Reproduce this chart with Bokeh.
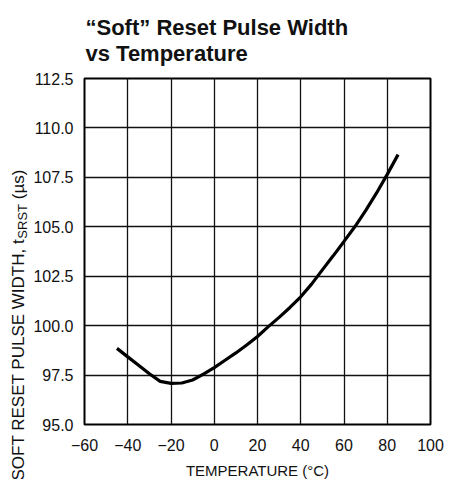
import math
from bokeh.plotting import figure
from bokeh.layouts import row
from bokeh.models import Range1d, FixedTicker, Label, PrintfTickFormatter
from bokeh.embed import file_html
from bokeh.resources import INLINE

# ---- data ----
TEMP = [-45, -40, -35, -30, -25, -20, -15, -10, -5, 0, 5, 10, 15, 20,
        25, 30, 35, 40, 45, 50, 55, 60, 65, 70, 75, 80, 85]
PULSE = [98.85, 98.42, 98.0, 97.57, 97.18, 97.08, 97.1, 97.25, 97.55, 97.88,
         98.25, 98.62, 99.02, 99.45, 99.95, 100.42, 100.92, 101.46, 102.1,
         102.82, 103.53, 104.26, 105.0, 105.82, 106.7, 107.65, 108.65]
X_TICKS = [-60, -40, -20, 0, 20, 40, 60, 80, 100]
X_TICK_LABELS = ["\u221260", "\u221240", "\u221220", "0", "20", "40", "60", "80", "100"]
Y_TICKS = [95.0, 97.5, 100.0, 102.5, 105.0, 107.5, 110.0, 112.5]
TITLE_LINES = ["\u201cSoft\u201d Reset Pulse Width", "vs Temperature"]
X_TITLE = "TEMPERATURE (\u00b0C)"
Y_TITLE_MAIN = "SOFT RESET PULSE WIDTH, t"
Y_TITLE_SUB = "SRST"
Y_TITLE_END = "(\u00b5s)"

X0, X1 = -60, 100
Y0, Y1 = 95.0, 112.5

# ---- layout (canvas pixels) ----
H = 479
LW = 30                      # strip holding the rotated y title
FW, FH = 346, 346
ML, MR, MT, MB = 53, 15, 78, 55
FONT = "Liberation Sans"
INK = "#111111"

# --- strip with the y-axis title (pixel coordinates) ---
s = figure(width=LW, height=H, frame_width=LW, frame_height=H,
           min_border=0, min_border_left=0, min_border_right=0,
           min_border_top=0, min_border_bottom=0,
           x_range=Range1d(0, LW), y_range=Range1d(0, H),
           x_axis_type=None, y_axis_type=None,
           output_backend="svg", toolbar_location=None)
s.outline_line_color = None
s.grid.visible = False
s.background_fill_color = "white"
s.border_fill_color = "white"

F_MAIN, F_SUB = 17, 13
main_len = 14.225 * F_MAIN
sub_len = 2.667 * F_SUB
gap = 0.278 * F_MAIN
y_start = 402                # canvas y (from top) where the title begins

def up(yc):
    return H - yc

s.add_layout(Label(x=18, y=up(y_start), text=Y_TITLE_MAIN, text_font=FONT,
                   text_font_size=f"{F_MAIN}px", angle=math.pi / 2, text_color=INK,
                   text_baseline="alphabetic", text_align="left"))
s.add_layout(Label(x=21.5, y=up(y_start - main_len), text=Y_TITLE_SUB, text_font=FONT,
                   text_font_size=f"{F_SUB}px", angle=math.pi / 2, text_color=INK,
                   text_baseline="alphabetic", text_align="left"))
s.add_layout(Label(x=18, y=up(y_start - main_len - sub_len - gap), text=Y_TITLE_END,
                   text_font=FONT, text_font_size=f"{F_MAIN}px", angle=math.pi / 2,
                   text_color=INK, text_baseline="alphabetic", text_align="left"))

# --- main chart ---
p = figure(width=ML + FW + MR, height=MT + FH + MB,
           frame_width=FW, frame_height=FH,
           min_border_left=ML, min_border_right=MR,
           min_border_top=MT, min_border_bottom=MB,
           x_range=Range1d(X0, X1), y_range=Range1d(Y0, Y1),
           output_backend="svg", toolbar_location=None)

p.background_fill_color = "white"
p.border_fill_color = "white"
p.outline_line_color = "black"
p.outline_line_width = 2

p.xaxis.ticker = FixedTicker(ticks=X_TICKS)
p.yaxis.ticker = FixedTicker(ticks=Y_TICKS)
p.xaxis.major_label_overrides = {t: lab for t, lab in zip(X_TICKS, X_TICK_LABELS)}
p.yaxis.formatter = PrintfTickFormatter(format="%.1f")
p.xgrid.ticker = FixedTicker(ticks=X_TICKS)
p.ygrid.ticker = FixedTicker(ticks=Y_TICKS)
p.grid.grid_line_color = INK
p.grid.grid_line_width = 1.3

for ax in (p.xaxis, p.yaxis):
    ax.axis_line_color = None
    ax.major_tick_line_color = None
    ax.minor_tick_line_color = None
    ax.major_label_text_font = FONT
    ax.major_label_text_font_size = "16px"
    ax.major_label_text_color = INK

p.yaxis.major_label_standoff = 5
p.xaxis.major_label_standoff = 8
p.xaxis.axis_label = X_TITLE
p.xaxis.axis_label_text_font = FONT
p.xaxis.axis_label_text_font_size = "15px"
p.xaxis.axis_label_text_font_style = "normal"
p.xaxis.axis_label_text_color = INK
p.xaxis.axis_label_standoff = 8

p.line(TEMP, PULSE, line_color="black", line_width=3.2)

def sx(xc):
    return X0 + (xc - ML) * (X1 - X0) / FW

def sy(yc):
    return Y1 - (yc - MT) * (Y1 - Y0) / FH

# title (two lines, left aligned with the frame)
for line, base in zip(TITLE_LINES, (MT - 51, MT - 25)):
    p.add_layout(Label(x=sx(ML + 1), y=sy(base), text=line, text_font=FONT,
                       text_font_size="22px", text_font_style="bold", text_color=INK,
                       text_baseline="alphabetic", text_align="left"), "above")

layout = row(s, p, spacing=0)
open("out.html", "w").write(file_html(layout, INLINE))
